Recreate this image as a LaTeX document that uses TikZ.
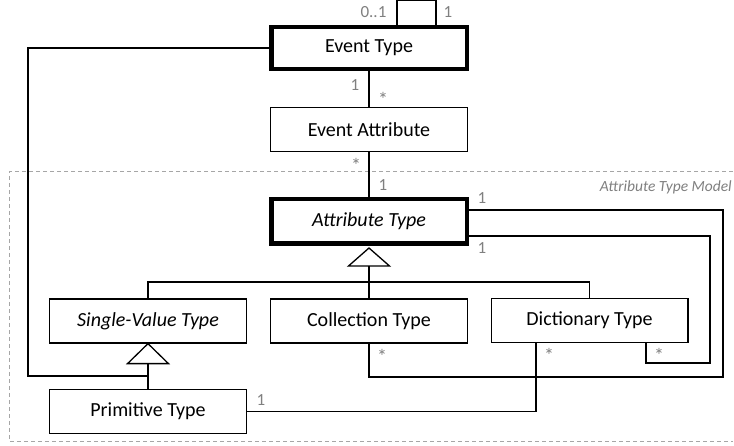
\documentclass[tikz,border=0pt]{standalone}
\usepackage{fontspec}
\setmainfont{Carlito}
\usetikzlibrary{calc}
\definecolor{labelgray}{HTML}{808080}
\definecolor{framegray}{HTML}{A6A6A6}
\begin{document}
\begin{tikzpicture}[x=1pt,y=-1pt,
  cls/.style={draw, line width=1.3pt, fill=white, minimum width=196.7pt,
    minimum height=44pt, inner sep=0pt, font=\fontsize{20}{24}\selectfont},
  root/.style={line width=4.5pt, minimum width=195.5pt, minimum height=42pt},
  abstractcls/.style={font=\fontsize{20}{24}\selectfont\itshape},
  conn/.style={line width=1.3pt},
  gen/.style={draw, line width=1.3pt, fill=white},
  mult/.style={text=labelgray, font=\fontsize{17}{20}\selectfont, inner sep=0pt},
  star/.style={mult, font=\fontsize{20}{24}\selectfont},
  frame/.style={framegray, line width=1pt, dash pattern=on 4pt off 3pt}
]
\useasboundingbox (0,0) rectangle (734,446);

% package frame
\draw[frame] (733,172) -- (9,172) -- (9,441) -- (733,441);
\node[text=labelgray, font=\fontsize{15.5}{18}\selectfont\itshape, anchor=east,
  inner sep=0pt] (fl) at (732,187) {Attribute Type Model};

% classes
\node[cls, root] (ET) at (369,48) {Event Type};
\node[cls] (EA) at (369,129.5) {Event Attribute};
\node[cls, root, abstractcls, minimum height=44.5pt] (AT) at (369,221.5) {Attribute Type};
\node[cls, abstractcls] (SV) at (148,321) {Single-Value Type};
\node[cls] (CT) at (369,321) {Collection Type};
\node[cls] (DT) at (589.5,320.5) {Dictionary Type};
\node[cls] (PT) at (148,411.5) {Primitive Type};

% routing points
\coordinate (evj) at (28,376);
\coordinate (bar) at (369,282);
\coordinate (outer) at (723,377);
\coordinate (inner) at (710,363);

% associations
\draw[conn] ($(ET.north)+(28,0)$) -- ++(0,-24.5) -| ($(ET.north)+(67,0)$);
\draw[conn] (ET) -- (EA);
\draw[conn] (EA) -- (AT);
\draw[conn] ($(AT.east)+(0,-11.5)$) -| (outer) -| (CT.south);
\draw[conn] ($(AT.east)+(0,14.5)$) -| (inner) -| ($(DT.south)+(56.5,0)$);
\draw[conn] ($(DT.south)+(-53.5,0)$) |- (PT.east);

% generalizations
\draw[conn] ($(AT.south)+(0,20)$) -- (CT.north);
\draw[conn] (SV.north) |- (bar) -| (DT.north);
\draw[gen] ($(AT.south)+(0,2)$) -- ++(-20.5,18) -- ++(41,0) -- cycle;
\draw[conn] (ET.west) -| (evj) -- (evj -| PT.north);
\draw[conn] ($(SV.south)+(0,20)$) -- (PT.north);
\draw[gen] (SV.south) -- ++(-20.5,20) -- ++(41,0) -- cycle;

% multiplicities
\node[mult] at (373.5,12) {0..1};
\node[mult] at (448,12) {1};
\node[mult] at (355,85) {1};
\node[star] at (383,99) {*};
\node[star] at (356,165) {*};
\node[mult] at (383,185) {1};
\node[mult] at (482,198) {1};
\node[mult] at (482,248) {1};
\node[star] at (382,356) {*};
\node[star] at (549,355) {*};
\node[star] at (659,355) {*};
\node[mult] at (261,400) {1};
\end{tikzpicture}
\end{document}
